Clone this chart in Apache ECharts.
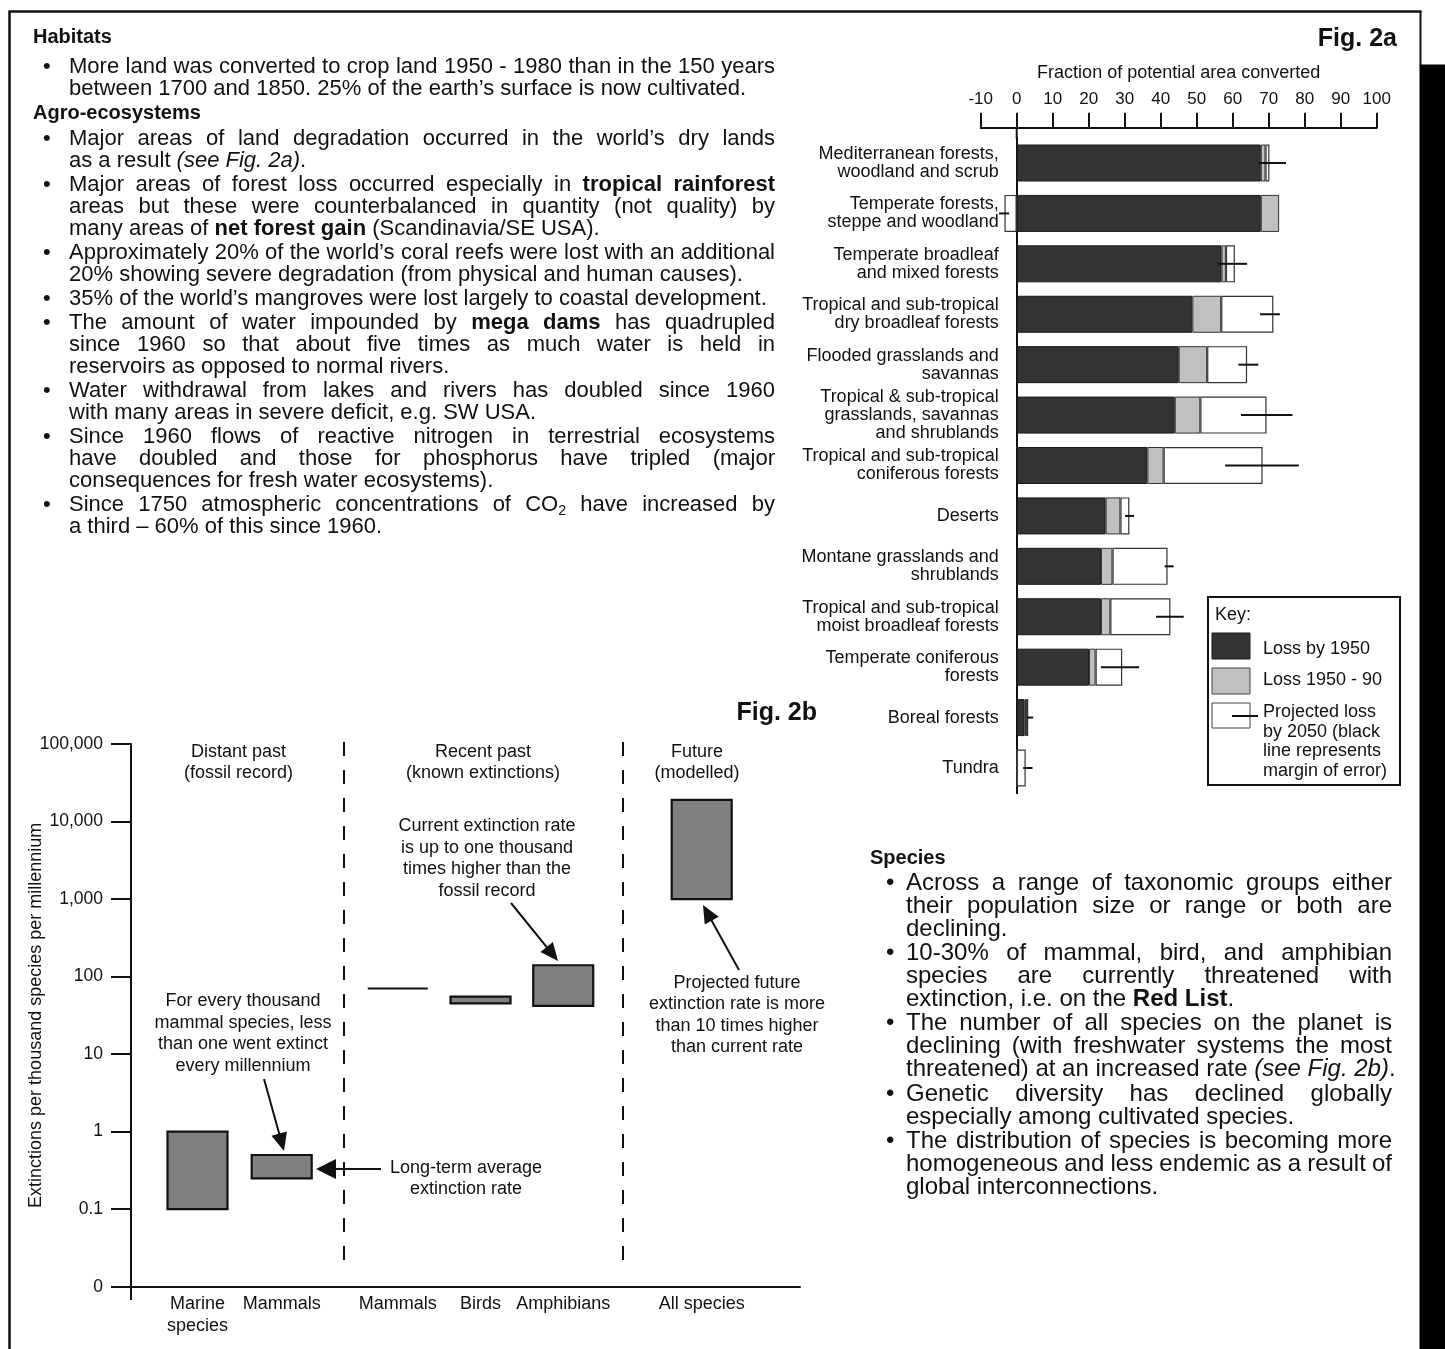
<!DOCTYPE html>
<html>
<head>
<meta charset="utf-8">
<script src="https://cdn.jsdelivr.net/npm/echarts@6/dist/echarts.min.js"></script>
<style>
  html, body { margin: 0; padding: 0; background: #fff; }
  #page { width: 1445px; height: 1349px; }
</style>
</head>
<body>
<div id="page"></div>
<script>
// ---------- Fig. 2a: fraction of potential biome area converted ----------
const biomes = [
  'Mediterranean forests,\nwoodland and scrub',
  'Temperate forests,\nsteppe and woodland',
  'Temperate broadleaf\nand mixed forests',
  'Tropical and sub-tropical\ndry broadleaf forests',
  'Flooded grasslands and\nsavannas',
  'Tropical & sub-tropical\ngrasslands, savannas\nand shrublands',
  'Tropical and sub-tropical\nconiferous forests',
  'Deserts',
  'Montane grasslands and\nshrublands',
  'Tropical and sub-tropical\nmoist broadleaf forests',
  'Temperate coniferous\nforests',
  'Boreal forests',
  'Tundra'
];
const lossBy1950      = [67.8, 67.8, 56.9, 48.8, 45.0, 43.9, 36.3, 24.7, 23.4, 23.4, 20.1, 2.2, 0];
const loss1950to90    = [1.3, 5.1, 1.2, 8.0, 7.9, 7.1, 4.5, 4.1, 3.2, 2.6, 1.8, 0.4, 0];
const projectedTo2050 = [1.1, -3.4, 2.5, 14.5, 11.1, 18.4, 27.5, 2.5, 15.3, 16.7, 7.4, 0.6, 2.5];
const projectedErrLow  = [67.2, -4.9, 56.0, 67.6, 61.6, 62.3, 57.9, 30.1, 41.1, 38.7, 23.4, 3.0, 1.8];
const projectedErrHigh = [74.8, -2.1, 64.0, 73.1, 67.1, 76.6, 78.4, 32.6, 43.6, 46.4, 34.0, 4.6, 4.4];

// ---------- Fig. 2b: extinction rates (per thousand species per millennium) ----------
const pastGroups   = ['Marine\nspecies', 'Mammals'];
const pastLow      = [0.1, 0.25];
const pastHigh     = [1, 0.5];
const recentGroups = ['Mammals', 'Birds', 'Amphibians'];
const recentLow    = [70, 45, 42];
const recentHigh   = [70, 55, 140];
const futureGroups = ['All species'];
const futureLow    = [1000];
const futureHigh   = [19000];
const rateTickLabels = ['0', '0.1', '1', '10', '100', '1,000', '10,000', '100,000'];

// ---------- body text ----------
const habitatsText = [
  ['More land was converted to crop land 1950 - 1980 than in the 150 years',
   'between 1700 and 1850. 25% of the earth’s surface is now cultivated.']
];
const agroText = [
  ['Major areas of land degradation occurred in the world’s dry lands',
   'as a result _(see Fig. 2a)_.'],
  ['Major areas of forest loss occurred especially in **tropical rainforest**',
   'areas but these were counterbalanced in quantity (not quality) by',
   'many areas of **net forest gain** (Scandinavia/SE USA).'],
  ['Approximately 20% of the world’s coral reefs were lost with an additional',
   '20% showing severe degradation (from physical and human causes).'],
  ['35% of the world’s mangroves were lost largely to coastal development.'],
  ['The amount of water impounded by **mega dams** has quadrupled',
   'since 1960 so that about five times as much water is held in',
   'reservoirs as opposed to normal rivers.'],
  ['Water withdrawal from lakes and rivers has doubled since 1960',
   'with many areas in severe deficit, e.g. SW USA.'],
  ['Since 1960 flows of reactive nitrogen in terrestrial ecosystems',
   'have doubled and those for phosphorus have tripled (major',
   'consequences for fresh water ecosystems).'],
  ['Since 1750 atmospheric concentrations of CO~2~ have increased by',
   'a third – 60% of this since 1960.']
];
const speciesText = [
  ['Across a range of taxonomic groups either',
   'their population size or range or both are',
   'declining.'],
  ['10-30% of mammal, bird, and amphibian',
   'species are currently threatened with',
   'extinction, i.e. on the **Red List**.'],
  ['The number of all species on the planet is',
   'declining (with freshwater systems the most',
   'threatened) at an increased rate _(see Fig. 2b)_.'],
  ['Genetic diversity has declined globally',
   'especially among cultivated species.'],
  ['The distribution of species is becoming more',
   'homogeneous and less endemic as a result of',
   'global interconnections.']
];

// ---------- helpers ----------
const FONT = 'Liberation Sans';
const INK = '#111';
const ctx = document.createElement('canvas').getContext('2d');
function fontStr(size, bold, italic) {
  return (italic ? 'italic ' : 'normal ') + (bold ? 'bold ' : 'normal ') + size + 'px "' + FONT + '"';
}
function parseLine(s) {
  const out = [];
  s.split(/(\*\*[^*]+\*\*|_[^_]+_|~[^~]+~)/).forEach(p => {
    if (!p) return;
    if (p.startsWith('**')) out.push({ t: p.slice(2, -2), b: true });
    else if (p.startsWith('_')) out.push({ t: p.slice(1, -1), i: true });
    else if (p.startsWith('~')) out.push({ t: p.slice(1, -1), sub: true });
    else out.push({ t: p });
  });
  return out;
}
function toWords(segs) {
  const words = []; let cur = [];
  segs.forEach(sg => {
    sg.t.split(' ').forEach((p, k) => {
      if (k > 0) { if (cur.length) words.push(cur); cur = []; }
      if (p) cur.push(Object.assign({}, sg, { t: p }));
    });
  });
  if (cur.length) words.push(cur);
  return words;
}
function pieceSize(pc, size) { return pc.sub ? size * 0.65 : size; }
function pieceWidth(pc, size) {
  ctx.font = fontStr(pieceSize(pc, size), pc.b, pc.i);
  return ctx.measureText(pc.t).width;
}
function textEl(x, y, text, size, opts) {
  opts = opts || {};
  return {
    type: 'text', x: x, y: y, silent: true, rotation: opts.rotation || 0,
    style: {
      text: text, fontFamily: FONT, fontSize: size,
      fontWeight: opts.bold ? 'bold' : 'normal',
      fontStyle: opts.italic ? 'italic' : 'normal',
      fill: opts.fill || INK,
      align: opts.align || 'left', textAlign: opts.align || 'left',
      verticalAlign: 'middle', textVerticalAlign: 'middle'
    }
  };
}
// one line of running text, optionally justified between x0 and x1
function lineEls(x0, x1, y, str, size, justify) {
  const words = toWords(parseLine(str));
  const widths = words.map(w => w.reduce((s, pc) => s + pieceWidth(pc, size), 0));
  const total = widths.reduce((a, b) => a + b, 0);
  ctx.font = fontStr(size, false, false);
  const space = ctx.measureText(' ').width;
  const gap = (justify && words.length > 1) ? (x1 - x0 - total) / (words.length - 1) : space;
  const els = [];
  let x = x0;
  words.forEach((w, k) => {
    let px = x;
    w.forEach(pc => {
      const sz = pieceSize(pc, size);
      els.push(textEl(px, pc.sub ? y + size * 0.28 : y, pc.t, sz, { bold: pc.b, italic: pc.i }));
      px += pieceWidth(pc, size);
    });
    x += widths[k] + gap;
  });
  return els;
}
// bulleted paragraphs: every line but the last of each paragraph is justified
function bulletBlock(paras, bulletX, x0, x1, yStart, lineStep, paraStep, size) {
  const els = []; let y = yStart;
  paras.forEach(lines => {
    els.push(textEl(bulletX, y, '•', size));
    lines.forEach((ln, k) => {
      els.push(...lineEls(x0, x1, y, ln, size, k < lines.length - 1));
      y += (k < lines.length - 1) ? lineStep : paraStep;
    });
  });
  return els;
}
function centredLines(cx, y0, step, lines, size) {
  return lines.map((t, k) => textEl(cx, y0 + k * step, t, size, { align: 'center' }));
}
function arrow(x1, y1, x2, y2, hl, hw) {
  hl = hl || 18; hw = hw || 8;
  const dx = x2 - x1, dy = y2 - y1, L = Math.hypot(dx, dy), ux = dx / L, uy = dy / L;
  const bx = x2 - ux * hl, by = y2 - uy * hl;
  return [
    { type: 'line', silent: true, shape: { x1: x1, y1: y1, x2: bx + ux * 2, y2: by + uy * 2 }, style: { stroke: INK, lineWidth: 2 } },
    { type: 'polygon', silent: true, shape: { points: [[x2, y2], [bx - uy * hw, by + ux * hw], [bx + uy * hw, by - ux * hw]] }, style: { fill: INK } }
  ];
}
function seg(x1, y1, x2, y2, w, dash) {
  return { type: 'line', silent: true, shape: { x1: x1, y1: y1, x2: x2, y2: y2 },
           style: { stroke: INK, lineWidth: w || 2, lineDash: dash || null } };
}
function box(x, y, w, h, fill, stroke, lw) {
  return { type: 'rect', silent: true, shape: { x: x, y: y, width: w, height: h },
           style: { fill: fill, stroke: stroke || null, lineWidth: lw || 0 } };
}

// ---------- layout ----------
const A = { left: 980.7, top: 137.8, width: 396, height: 655.4 };   // Fig. 2a plot
const B = { left: 131, top: 744, width: 669, height: 542.7 };       // Fig. 2b frame
const fracMin = -10, fracMax = 100;
const zeroShift = A.width * (0 - fracMin) / (fracMax - fracMin);   // y axis sits on x = 0
const rateMin = 0.01, rateMax = 100000;

function rateBar(params, api) {
  const c = api.value(0);
  const lo = api.coord([c, api.value(1)]);
  const hi = api.coord([c, api.value(2)]);
  const w = 60;
  if (Math.abs(lo[1] - hi[1]) < 0.5) {
    return { type: 'line', shape: { x1: lo[0] - w / 2, y1: lo[1], x2: lo[0] + w / 2, y2: lo[1] },
             style: { stroke: INK, lineWidth: 2 } };
  }
  return { type: 'rect', shape: { x: lo[0] - w / 2, y: hi[1], width: w, height: lo[1] - hi[1] },
           style: { fill: '#808080', stroke: INK, lineWidth: 2.2 } };
}
function errorBar(params, api) {
  const a = api.coord([api.value(0), api.value(2)]);
  const b = api.coord([api.value(1), api.value(2)]);
  return { type: 'line', shape: { x1: a[0], y1: a[1], x2: b[0], y2: b[1] },
           style: { stroke: INK, lineWidth: 2 } };
}
const rateLabel = v => rateTickLabels[Math.round(Math.log10(v)) + 2] || '';

const catAxis = (gi, data) => ({
  gridIndex: gi, type: 'category', data: data,
  axisLine: { show: false }, axisTick: { show: false }, splitLine: { show: false },
  axisLabel: { interval: 0, fontSize: 18, lineHeight: 22, margin: 6, color: INK, fontFamily: FONT }
});
const hiddenLog = gi => ({ gridIndex: gi, type: 'log', logBase: 10, min: rateMin, max: rateMax, show: false });

const rangeSeries = (gi, low, high) => ({
  type: 'custom', xAxisIndex: gi, yAxisIndex: gi, silent: true, renderItem: rateBar,
  encode: { x: 0, y: [1, 2] },
  data: low.map((v, i) => [i, v, high[i]])
});

const chart = echarts.init(document.getElementById('page'), null, { renderer: 'canvas' });
const option = {
  animation: false,
  backgroundColor: '#fff',
  textStyle: { fontFamily: FONT, color: INK },
  grid: [
    Object.assign({ outerBoundsMode: 'none' }, A),
    Object.assign({ outerBoundsMode: 'none' }, B),
    { outerBoundsMode: 'none', left: 155.4, top: B.top, width: 168.4, height: B.height },
    { outerBoundsMode: 'none', left: 356.4, top: B.top, width: 248.2, height: B.height },
    { outerBoundsMode: 'none', left: 660, top: B.top, width: 83.4, height: B.height }
  ],
  xAxis: [
    {
      gridIndex: 0, type: 'value', position: 'top', offset: 10, min: fracMin, max: fracMax, interval: 10,
      axisLine: { show: true, onZero: false, lineStyle: { color: INK, width: 2 } },
      axisTick: { show: true, length: 15, lineStyle: { color: INK, width: 2 } },
      axisLabel: { fontSize: 17, color: INK, margin: 20, fontFamily: FONT },
      splitLine: { show: false },
      name: 'Fraction of potential area converted', nameLocation: 'middle', nameGap: 46,
      nameMoveOverlap: false,
      nameTextStyle: { fontSize: 18, color: INK, fontFamily: FONT }
    },
    {
      gridIndex: 1, type: 'value', min: 0, max: 1,
      axisLine: { show: true, onZero: false, lineStyle: { color: INK, width: 2 } },
      axisTick: { show: false }, axisLabel: { show: false }, splitLine: { show: false }
    },
    catAxis(2, pastGroups),
    catAxis(3, recentGroups),
    catAxis(4, futureGroups)
  ],
  yAxis: [
    {
      gridIndex: 0, type: 'category', inverse: true, data: biomes, offset: -zeroShift,
      axisLine: { show: true, onZero: false, lineStyle: { color: INK, width: 2 } },
      axisTick: { show: false }, splitLine: { show: false },
      axisLabel: { interval: 0, fontSize: 18, lineHeight: 18, color: INK, margin: 18, fontFamily: FONT }
    },
    {
      gridIndex: 1, type: 'log', logBase: 10, min: rateMin, max: rateMax, splitNumber: 7, interval: 1,
      axisLine: { show: true, onZero: false, lineStyle: { color: INK, width: 2 } },
      axisTick: { show: true, length: 20, lineStyle: { color: INK, width: 2 } },
      axisLabel: { formatter: rateLabel, fontSize: 17.5, color: INK, margin: 28, fontFamily: FONT },
      splitLine: { show: false }, minorTick: { show: false },
      name: 'Extinctions per thousand species per millennium', nameLocation: 'middle', nameGap: 86,
      nameMoveOverlap: false,
      nameTextStyle: { fontSize: 18, color: INK, fontFamily: FONT }
    },
    hiddenLog(2), hiddenLog(3), hiddenLog(4)
  ],
  series: [
    {
      name: 'Loss by 1950', type: 'bar', xAxisIndex: 0, yAxisIndex: 0, stack: 'conv',
      stackStrategy: 'samesign', barWidth: 37, silent: true, data: lossBy1950,
      itemStyle: { color: '#333333', borderColor: '#1a1a1a', borderWidth: 1 }
    },
    {
      name: 'Loss 1950 - 90', type: 'bar', xAxisIndex: 0, yAxisIndex: 0, stack: 'conv',
      stackStrategy: 'samesign', barWidth: 37, silent: true, data: loss1950to90,
      itemStyle: { color: '#c0c0c0', borderColor: '#333', borderWidth: 1 }
    },
    {
      name: 'Projected loss by 2050', type: 'bar', xAxisIndex: 0, yAxisIndex: 0, stack: 'conv',
      stackStrategy: 'samesign', barWidth: 37, silent: true, data: projectedTo2050,
      itemStyle: { color: '#ffffff', borderColor: '#333', borderWidth: 1.2 }
    },
    {
      name: 'Margin of error', type: 'custom', xAxisIndex: 0, yAxisIndex: 0, silent: true, z: 10,
      renderItem: errorBar, encode: { x: [0, 1], y: 2 },
      data: biomes.map((b, i) => [projectedErrLow[i], projectedErrHigh[i], i])
    },
    rangeSeries(2, pastLow, pastHigh),
    rangeSeries(3, recentLow, recentHigh),
    rangeSeries(4, futureLow, futureHigh)
  ]
};
chart.setOption(option);

// ---------- page furniture, text and annotations ----------
const zeroX = chart.convertToPixel({ xAxisIndex: 0 }, 0);
const g = [];

// frame and right-hand tab
g.push(seg(9.5, 11.5, 9.5, 1349, 2.5));
g.push(seg(8.5, 11.5, 1421.5, 11.5, 2.5));
g.push(seg(1420.5, 11, 1420.5, 66, 2));
g.push(box(1419.5, 64.5, 26, 1285, '#000'));

// left column
g.push(textEl(33, 37, 'Habitats', 20, { bold: true }));
g.push(...bulletBlock(habitatsText, 43, 69, 775, 67, 21.75, 24.3, 22));
g.push(textEl(33, 113, 'Agro-ecosystems', 20, { bold: true }));
g.push(...bulletBlock(agroText, 43, 69, 775, 139, 21.75, 24.3, 22));

// species column
g.push(textEl(870, 858, 'Species', 20, { bold: true }));
g.push(...bulletBlock(speciesText, 886, 906, 1392, 883, 23.1, 24.1, 24));

// Fig. 2a extras
g.push(textEl(1397, 39, 'Fig. 2a', 25, { bold: true, align: 'right' }));
g.push(seg(zeroX, 127, zeroX, A.top + 1, 2));
g.push(box(1208, 597, 192, 188, '#fff', INK, 2));
g.push(textEl(1215, 615, 'Key:', 18));
g.push(box(1212, 633, 38, 26, '#333333', '#1a1a1a', 1));
g.push(textEl(1263, 649, 'Loss by 1950', 18));
g.push(box(1212, 668, 38, 26, '#c0c0c0', '#444', 1));
g.push(textEl(1263, 680, 'Loss 1950 - 90', 18));
g.push(box(1212, 703, 38, 25, '#fff', '#444', 1));
g.push(seg(1232, 716, 1258, 716, 2));
['Projected loss', 'by 2050 (black', 'line represents', 'margin of error)'].forEach((t, k) => {
  g.push(textEl(1263, 712 + k * 19.7, t, 18));
});

// Fig. 2b extras
g.push(textEl(817, 713, 'Fig. 2b', 25, { bold: true, align: 'right' }));
g.push(seg(B.left, B.top + B.height, B.left, 1300, 2));
[344, 623].forEach(x => g.push(seg(x, 742, x, 1272, 2, [14, 14])));
g.push(...centredLines(238.5, 752, 21, ['Distant past', '(fossil record)'], 18));
g.push(...centredLines(483, 752, 21, ['Recent past', '(known extinctions)'], 18));
g.push(...centredLines(697, 752, 21, ['Future', '(modelled)'], 18));
g.push(...centredLines(487, 826.5, 21.5, ['Current extinction rate', 'is up to one thousand', 'times higher than the', 'fossil record'], 18));
g.push(...centredLines(737, 983, 21.5, ['Projected future', 'extinction rate is more', 'than 10 times higher', 'than current rate'], 18));
g.push(...centredLines(243, 1001, 21.7, ['For every thousand', 'mammal species, less', 'than one went extinct', 'every millennium'], 18));
g.push(...centredLines(466, 1168, 21, ['Long-term average', 'extinction rate'], 18));
g.push(...arrow(511, 903, 558, 961));
g.push(...arrow(739, 970, 703, 905));
g.push(...arrow(264, 1079, 284, 1151));
g.push(...arrow(381, 1169, 316, 1169, 20, 10));

chart.setOption({ graphic: { elements: g } });
</script>
</body>
</html>
